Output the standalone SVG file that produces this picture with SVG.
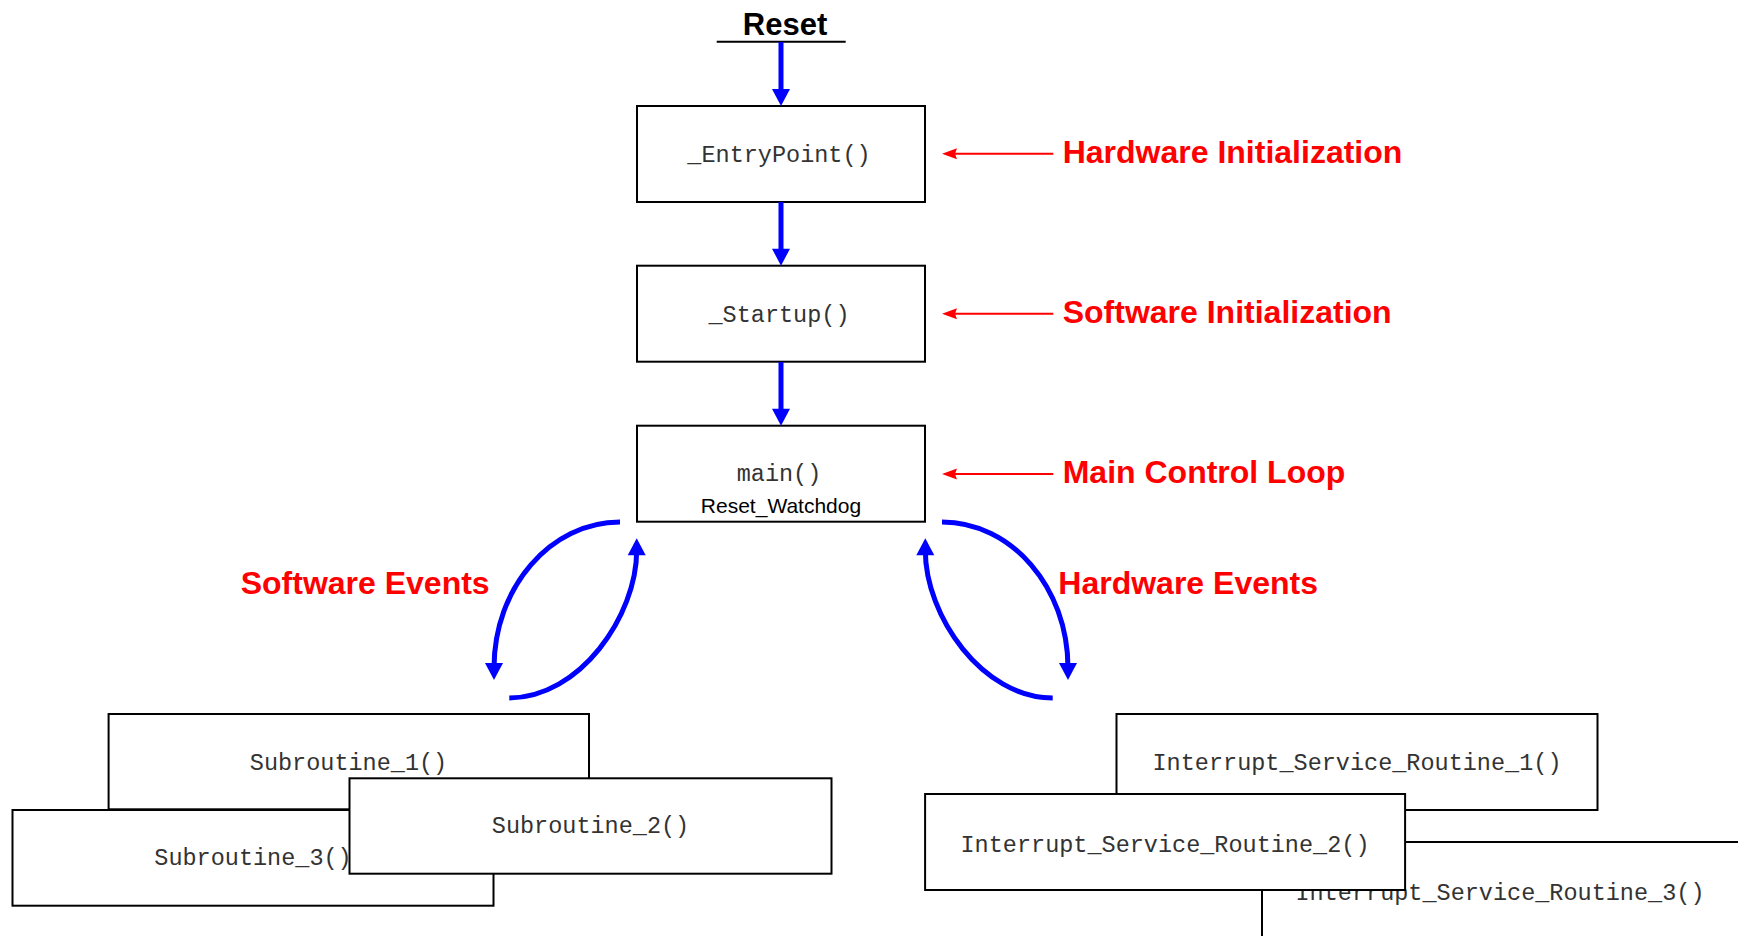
<svg xmlns="http://www.w3.org/2000/svg" width="1738" height="936" viewBox="0 0 1738 936">
  <style>
    .box { fill: #ffffff; stroke: #000000; stroke-width: 2; }
    .code { font-family: "Liberation Mono", "Courier New", monospace; font-size: 23.5px; fill: #333333; text-anchor: middle; }
    .plain { font-family: "Liberation Sans", Arial, sans-serif; font-size: 21px; fill: #000000; text-anchor: middle; }
    .note { font-family: "Liberation Sans", Arial, sans-serif; font-size: 32px; font-weight: bold; fill: #ff0000; }
    .title { font-family: "Liberation Sans", Arial, sans-serif; font-size: 31px; font-weight: bold; fill: #000000; text-anchor: middle; }
    .flow { fill: none; stroke: #0000ff; stroke-width: 5; marker-end: url(#blueHead); }
    .hint { fill: none; stroke: #ff0000; stroke-width: 2; marker-end: url(#redHead); }
  </style>
  <defs>
    <marker id="blueHead" markerUnits="userSpaceOnUse" markerWidth="18" markerHeight="18" refX="5" refY="9" orient="auto" overflow="visible">
      <path d="M0,0 L17,9 L0,18 z" fill="#0000ff"/>
    </marker>
    <marker id="redHead" markerUnits="userSpaceOnUse" markerWidth="15" markerHeight="11" refX="7" refY="5.5" orient="auto" overflow="visible">
      <path d="M0,0 L15,5.5 L0,11 L2,5.5 z" fill="#ff0000"/>
    </marker>
  </defs>

  <rect width="1738" height="936" fill="#ffffff"/>

  <!-- Reset title with underline -->
  <g id="reset">
    <text class="title" x="785" y="35">Reset</text>
    <line x1="716.7" y1="41.7" x2="845.7" y2="41.7" stroke="#000000" stroke-width="2"/>
  </g>

  <!-- start-up chain -->
  <g id="entry-point">
    <rect class="box" x="637" y="106" width="288" height="96"/>
    <text class="code" x="779" y="161.7">_EntryPoint()</text>
  </g>
  <g id="startup">
    <rect class="box" x="637" y="265.7" width="288" height="96"/>
    <text class="code" x="779" y="321.7">_Startup()</text>
  </g>
  <g id="main">
    <rect class="box" x="637" y="425.7" width="288" height="96"/>
    <text class="code" x="779" y="481">main()</text>
    <text class="plain" x="781" y="513">Reset_Watchdog</text>
  </g>

  <!-- software side routines -->
  <g id="subroutine-1">
    <rect class="box" x="108.6" y="714" width="480.4" height="95.3"/>
    <text class="code" x="348.5" y="770">Subroutine_1()</text>
  </g>
  <g id="subroutine-3">
    <rect class="box" x="12.5" y="810" width="481" height="95.7"/>
    <text class="code" x="253" y="865">Subroutine_3()</text>
  </g>
  <g id="subroutine-2">
    <rect class="box" x="349.5" y="778.3" width="482" height="95.4"/>
    <text class="code" x="590.5" y="833.3">Subroutine_2()</text>
  </g>

  <!-- hardware side routines -->
  <g id="isr-1">
    <rect class="box" x="1116.5" y="714" width="481" height="96"/>
    <text class="code" x="1357" y="770">Interrupt_Service_Routine_1()</text>
  </g>
  <g id="isr-3">
    <rect class="box" x="1262" y="842" width="481" height="96"/>
    <text class="code" x="1500" y="900">Interrupt_Service_Routine_3()</text>
  </g>
  <g id="isr-2">
    <rect class="box" x="925.1" y="794" width="480" height="96"/>
    <text class="code" x="1165" y="851.7">Interrupt_Service_Routine_2()</text>
  </g>

  <!-- annotations -->
  <g id="label-hw-init">
    <text class="note" x="1062.7" y="162.7">Hardware Initialization</text>
  </g>
  <g id="label-sw-init">
    <text class="note" x="1062.7" y="322.7">Software Initialization</text>
  </g>
  <g id="label-main-loop">
    <text class="note" x="1062.7" y="482.7">Main Control Loop</text>
  </g>
  <g id="label-sw-events">
    <text class="note" x="240.7" y="594.3">Software Events</text>
  </g>
  <g id="label-hw-events">
    <text class="note" x="1058.3" y="594.3">Hardware Events</text>
  </g>

  <!-- connectors -->
  <g id="connectors">
    <path class="flow" d="M781,42 V94"/>
    <path class="flow" d="M781,202 V253.7"/>
    <path class="flow" d="M781,362 V413.7"/>

    <path class="flow" d="M620,522 C550.4,522 494,587.4 494,668"/>
    <path class="flow" d="M509.3,698 C579.4,698 636.7,616.3 636.7,550.3"/>
    <path class="flow" d="M942,522 C1011.6,522 1068,587.4 1068,668"/>
    <path class="flow" d="M1052.7,698 C982.6,698 925.3,616.3 925.3,550.3"/>

    <path class="hint" d="M1053.3,153.7 H950"/>
    <path class="hint" d="M1053.3,313.7 H950"/>
    <path class="hint" d="M1053.3,474 H950"/>
  </g>
</svg>
